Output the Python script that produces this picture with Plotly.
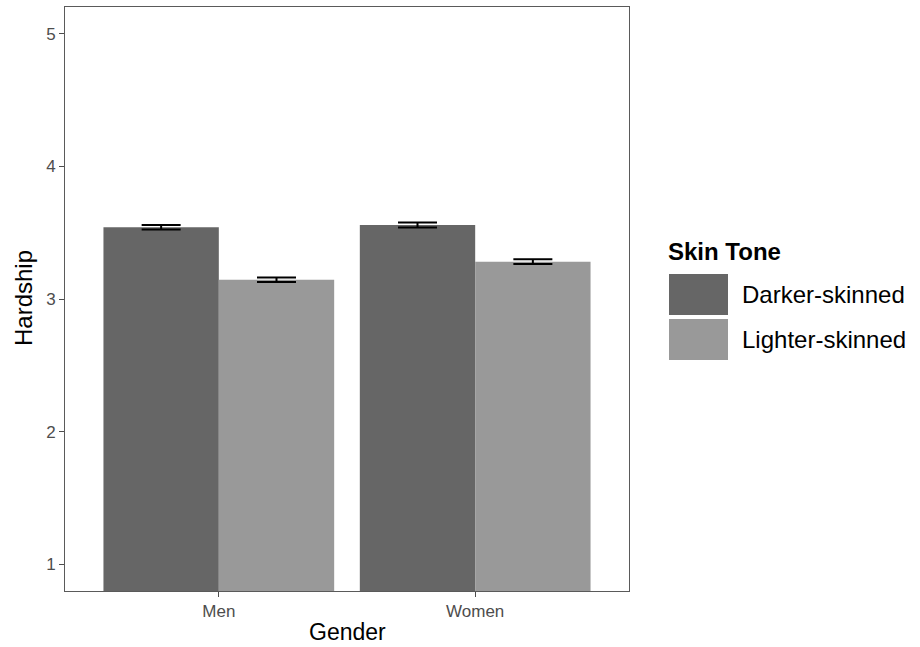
import plotly.graph_objects as go

# Mean hardship score by gender and skin tone, with standard errors
genders = ["Men", "Women"]
skin_tones = ["Darker-skinned", "Lighter-skinned"]
hardship_darker = [3.540, 3.557]
hardship_lighter = [3.145, 3.281]
se_darker = [0.017, 0.019]
se_lighter = [0.017, 0.018]
fill_colors = ["#666666", "#999999"]
y_ticks = [1, 2, 3, 4, 5]

W, H = 920, 647
PL, PR, PT, PB = 65, 629, 7, 591  # panel edges in pixels
FONT = "Liberation Sans, Arial, Helvetica, sans-serif"


def px_x(px):
    return (px - PL) / (PR - PL)


def px_y(py):
    return (PB - py) / (PB - PT)


fig = go.Figure()
for name, vals, errs, col in zip(
    skin_tones, [hardship_darker, hardship_lighter], [se_darker, se_lighter], fill_colors
):
    fig.add_trace(
        go.Bar(
            x=genders,
            y=vals,
            name=name,
            marker=dict(color=col, line=dict(width=0)),
            error_y=dict(type="data", array=errs, color="black", thickness=2, width=19.5),
            showlegend=False,
        )
    )

shapes = []
annotations = []

# Legend: title, keys and labels
annotations.append(dict(
    x=px_x(666), y=px_y(251), xref="paper", yref="paper", text="<b>Skin Tone</b>",
    showarrow=False, xanchor="left", yanchor="middle",
    font=dict(family=FONT, size=24, color="black"),
))
key_tops = [274, 319]
key_h = 41
for name, col, top in zip(skin_tones, fill_colors, key_tops):
    shapes.append(dict(
        type="rect", xref="paper", yref="paper",
        x0=px_x(669), x1=px_x(728), y0=px_y(top + key_h), y1=px_y(top),
        fillcolor=col, line=dict(width=0),
    ))
    annotations.append(dict(
        x=px_x(740), y=px_y(top + key_h / 2), xref="paper", yref="paper", text=name,
        showarrow=False, xanchor="left", yanchor="middle",
        font=dict(family=FONT, size=24, color="black"),
    ))

# Axis titles
annotations.append(dict(
    x=px_x(23), y=px_y(298), xref="paper", yref="paper", text="Hardship",
    showarrow=False, textangle=-90, xanchor="center", yanchor="middle",
    font=dict(family=FONT, size=24, color="black"),
))
annotations.append(dict(
    x=px_x(347), y=px_y(646), xref="paper", yref="paper", text="Gender",
    showarrow=False, xanchor="center", yanchor="bottom", borderpad=0,
    font=dict(family=FONT, size=23, color="black"),
))

axis_common = dict(
    showgrid=False, zeroline=False, showline=True, mirror=True,
    linecolor="#5a5a5a", linewidth=1,
    ticks="outside", ticklen=5, tickwidth=1, tickcolor="#4d4d4d",
    tickfont=dict(family=FONT, size=17, color="#4d4d4d"),
)

fig.update_layout(
    width=W, height=H,
    margin=dict(l=PL, r=W - PR, t=PT, b=H - PB, autoexpand=False),
    paper_bgcolor="white", plot_bgcolor="white",
    barmode="group", bargap=0.1, bargroupgap=0,
    shapes=shapes, annotations=annotations,
    xaxis=dict(axis_common, type="category", range=[-0.6, 1.6]),
    yaxis=dict(axis_common, range=[0.8, 5.2], tickvals=y_ticks),
    showlegend=False,
)

fig.write_html("out.html")
